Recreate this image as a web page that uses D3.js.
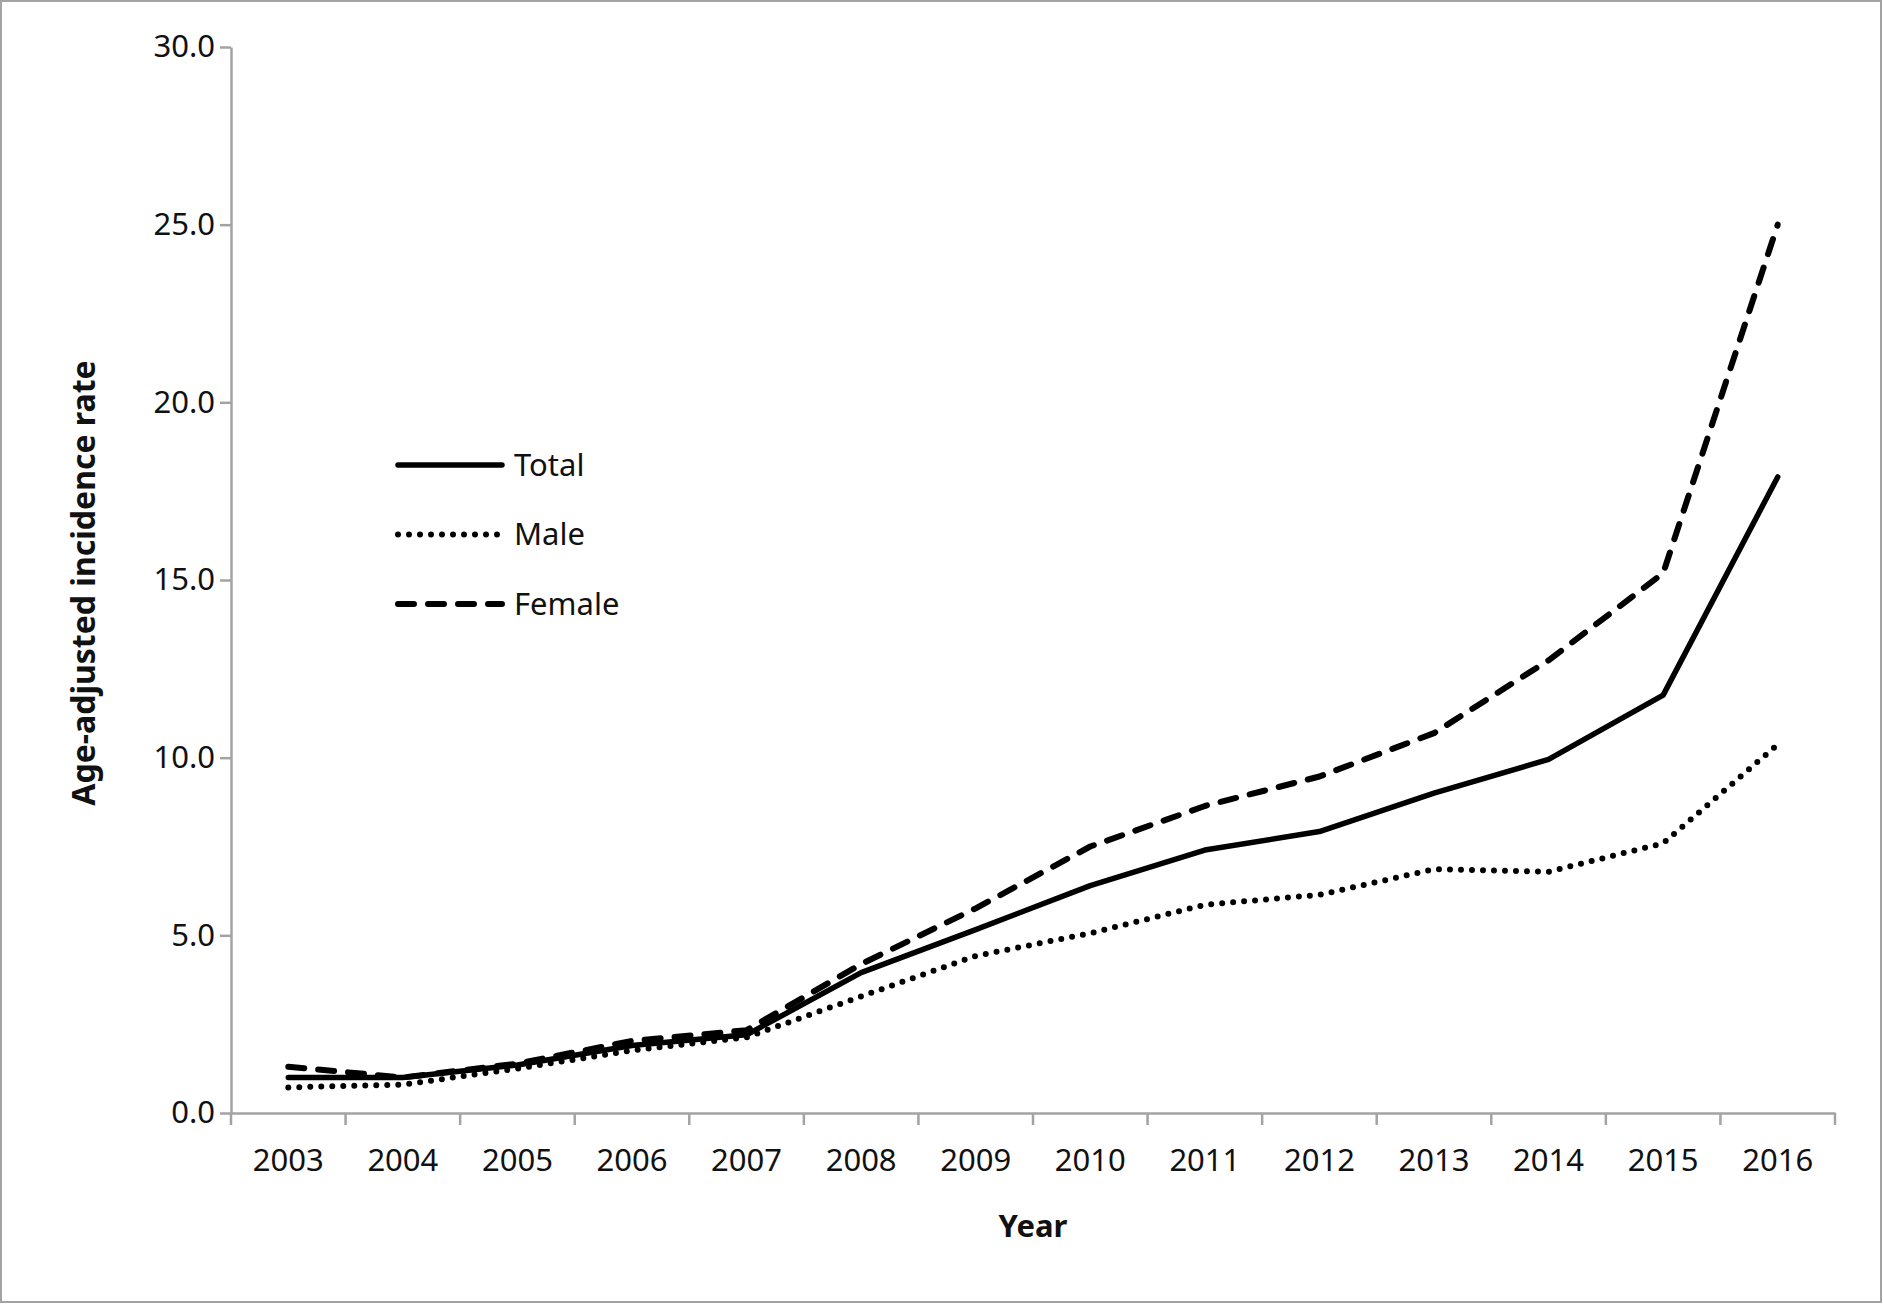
<!DOCTYPE html>
<html>
<head>
<script src="https://d3js.org/d3.v7.min.js"></script>
<style>
  body { margin: 0; background: #fff; font-family: 'Noto Sans', sans-serif; }
</style>
</head>
<body>
<div id="chart"></div>
<script>
const years = ["2003", "2004", "2005", "2006", "2007", "2008", "2009", "2010", "2011", "2012", "2013", "2014", "2015", "2016"];
const total = [1.0, 1.0, 1.35, 1.9, 2.2, 3.95, 5.16, 6.4, 7.4, 7.92, 9.0, 9.95, 11.76, 17.9];
const male = [0.72, 0.8, 1.25, 1.76, 2.13, 3.28, 4.42, 5.06, 5.86, 6.14, 6.86, 6.79, 7.59, 10.37];
const female = [1.3, 1.0, 1.39, 2.03, 2.33, 4.19, 5.76, 7.5, 8.64, 9.47, 10.69, 12.74, 15.19, 25.0];
const yTicks = [0, 5, 10, 15, 20, 25, 30];

const series = [
  { name: "Total", values: total, dash: null },
  { name: "Male", values: male, dash: "0,11" },
  { name: "Female", values: female, dash: "16,14" }
];

const width = 1883, height = 1304;
const margin = { top: 47, right: 48, bottom: 191, left: 231 };

const svg = d3.select("#chart").append("svg")
  .attr("width", width)
  .attr("height", height);

// outer frame
svg.append("rect")
  .attr("x", 1).attr("y", 1)
  .attr("width", width - 3).attr("height", height - 3)
  .attr("fill", "none")
  .attr("stroke", "#a3a3a3")
  .attr("stroke-width", 2);

const x = d3.scaleBand()
  .domain(years)
  .range([margin.left, width - margin.right]);

const y = d3.scaleLinear()
  .domain([0, 30])
  .range([height - margin.bottom, margin.top]);

// y axis
const yAxis = svg.append("g")
  .attr("transform", `translate(${margin.left},0)`)
  .call(d3.axisLeft(y).tickValues(yTicks).tickFormat(d3.format(".1f")).tickSize(11).tickSizeOuter(0).tickPadding(5));
yAxis.select(".domain").attr("stroke", "#a3a3a3").attr("stroke-width", 2.5);
yAxis.selectAll(".tick line").attr("stroke", "#a3a3a3").attr("stroke-width", 2.5);
yAxis.selectAll("text").attr("font-size", 31).attr("font-family", "'Noto Sans', sans-serif").attr("fill", "#111");

// x axis (labels centred in bands, ticks at band edges)
const xAxis = svg.append("g")
  .attr("transform", `translate(0,${height - margin.bottom})`)
  .call(d3.axisBottom(x).tickSize(0).tickPadding(36));
xAxis.select(".domain").attr("stroke", "#a3a3a3").attr("stroke-width", 2.5);
xAxis.selectAll("text").attr("font-size", 31).attr("font-family", "'Noto Sans', sans-serif").attr("fill", "#111");

const edges = years.map(d => x(d)).concat([x(years[years.length - 1]) + x.bandwidth()]);
xAxis.selectAll(".edge")
  .data(edges)
  .join("line")
  .attr("class", "edge")
  .attr("x1", d => d).attr("x2", d => d)
  .attr("y1", 0).attr("y2", 12)
  .attr("stroke", "#a3a3a3")
  .attr("stroke-width", 2.5);

// axis titles
svg.append("text")
  .attr("x", (margin.left + width - margin.right) / 2)
  .attr("y", 1237)
  .attr("text-anchor", "middle")
  .attr("font-size", 31)
  .attr("font-weight", "bold")
  .attr("fill", "#111")
  .text("Year");

svg.append("text")
  .attr("transform", `translate(95,583) rotate(-90)`)
  .attr("text-anchor", "middle")
  .attr("font-size", 32)
  .attr("font-weight", "bold")
  .attr("fill", "#111")
  .text("Age-adjusted incidence rate");

// lines
const line = d3.line()
  .x((d, i) => x(years[i]) + x.bandwidth() / 2)
  .y(d => y(d));

svg.append("g")
  .selectAll("path")
  .data(series)
  .join("path")
  .attr("d", d => line(d.values))
  .attr("fill", "none")
  .attr("stroke", "#000")
  .attr("stroke-width", d => d.dash ? 6 : 5.5)
  .attr("stroke-linecap", "round")
  .attr("stroke-linejoin", "round")
  .attr("stroke-dasharray", d => d.dash);

// legend
const legend = svg.append("g")
  .attr("transform", "translate(398,465)")
  .selectAll("g")
  .data(series)
  .join("g")
  .attr("transform", (d, i) => `translate(0,${i * 69.5})`);

legend.append("line")
  .attr("x1", 0).attr("x2", 104)
  .attr("stroke", "#000")
  .attr("stroke-width", d => d.dash ? 6 : 5.5)
  .attr("stroke-linecap", "round")
  .attr("stroke-dasharray", d => d.dash);

legend.append("text")
  .attr("x", 116)
  .attr("dy", "0.35em")
  .attr("font-size", 31)
  .attr("fill", "#111")
  .text(d => d.name);
</script>
</body>
</html>
